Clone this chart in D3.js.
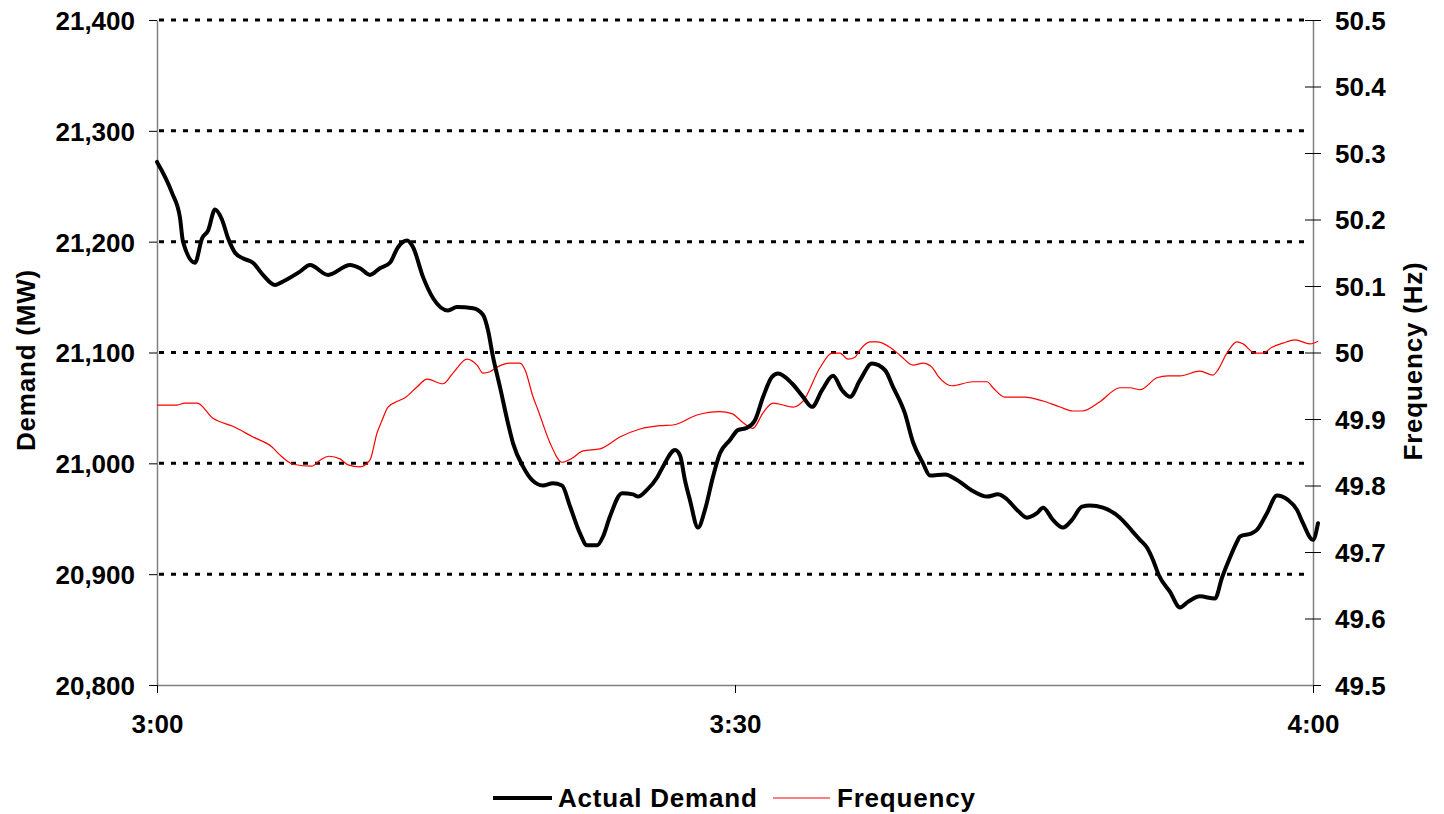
<!DOCTYPE html>
<html>
<head>
<meta charset="utf-8">
<script src="https://cdn.jsdelivr.net/npm/d3@7"></script>
<style>
  body { margin: 0; background: #fff; }
  text { font-family: "Liberation Sans", Arial, sans-serif; font-weight: bold; fill: #000; }
</style>
</head>
<body>
<svg id="chart" width="1444" height="814"></svg>
<script>
// Time axis: minutes after 3:00
const timeTicks = [0, 30, 60];
const timeTickLabels = ["3:00", "3:30", "4:00"];
const demandTicks = [20800, 20900, 21000, 21100, 21200, 21300, 21400];
const freqTicks = [49.5, 49.6, 49.7, 49.8, 49.9, 50.0, 50.1, 50.2, 50.3, 50.4, 50.5];

// Actual demand (MW)
const demandMinutes = [0, 0.78, 1.19, 1.35, 1.97, 2.34, 2.65, 3.01, 3.37, 3.69, 4.05, 4.46, 4.98, 5.5, 6.12, 6.64, 7.42, 7.94, 8.88, 10.02,
  10.54, 11.05, 11.57, 12.09, 12.51, 12.98, 13.29, 13.81, 14.33, 15.1, 15.57, 16.4, 16.92, 17.18, 17.44, 17.8, 18.22, 18.48, 19.0, 19.46,
  20.03, 20.55, 21.02, 21.44, 21.95, 22.32, 22.84, 23.15, 23.51, 24.14, 24.71, 24.97, 25.43, 25.95, 26.26, 26.89, 27.15, 27.4, 27.66, 28.08,
  28.44, 28.86, 29.22, 29.74, 30.15, 30.62, 31.04, 31.46, 31.92, 32.23, 32.96, 33.53, 34.0, 34.52, 35.09, 35.56, 35.97, 36.49, 37.11, 37.79,
  38.2, 38.82, 39.24, 39.76, 40.12, 40.9, 41.52, 42.35, 43.08, 43.65, 44.01, 44.64, 45.15, 45.67, 45.99, 46.5, 47.02, 47.49, 48.01, 48.42,
  49.1, 49.98, 50.66, 51.02, 51.38, 51.69, 52.0, 52.58, 53.1, 53.51, 54.13, 54.91, 55.28, 55.69, 56.05, 56.21, 56.83, 57.09, 57.61, 58.13,
  58.7, 59.17, 59.48, 60.0, 60.26];
const demandMW = [21272, 21244, 21222, 21200, 21181, 21203, 21210, 21229, 21220, 21203, 21190, 21185, 21181, 21170, 21161, 21165, 21173, 21179, 21170, 21179,
  21176, 21170, 21176, 21181, 21195, 21201, 21195, 21168, 21149, 21138, 21141, 21140, 21134, 21120, 21096, 21069, 21036, 21018, 20997, 20985,
  20980, 20982, 20980, 20961, 20937, 20926, 20926, 20934, 20952, 20973, 20972, 20970, 20976, 20987, 20997, 21012, 21007, 20985, 20967, 20942,
  20958, 20988, 21009, 21021, 21030, 21032, 21039, 21060, 21078, 21081, 21072, 21060, 21051, 21066, 21079, 21066, 21060, 21075, 21090, 21084,
  21069, 21045, 21019, 21000, 20989, 20990, 20985, 20975, 20970, 20972, 20969, 20958, 20951, 20955, 20960, 20949, 20942, 20949, 20961, 20962,
  20960, 20951, 20938, 20931, 20924, 20913, 20899, 20884, 20870, 20875, 20880, 20878, 20897, 20915, 20929, 20934, 20937, 20940, 20955, 20971,
  20967, 20958, 20946, 20931, 20946];

// System frequency (Hz)
const freqMinutes = [0, 1.04, 1.45, 2.08, 2.91, 3.94, 4.98, 5.97, 6.38, 7.06, 8.04, 8.46, 8.93, 9.5, 9.91, 10.54, 11.05, 11.42, 11.68, 11.99,
  12.51, 12.87, 13.49, 14.01, 14.84, 15.36, 16.09, 16.61, 16.92, 17.28, 17.65, 18.32, 18.84, 19.1, 19.52, 19.77, 20.4, 21.02, 21.54, 22.11,
  22.99, 24.03, 25.07, 26.11, 26.78, 28.03, 29.22, 29.84, 30.36, 30.93, 31.45, 31.97, 33.01, 33.53, 34.41, 35.03, 35.45, 35.86, 36.23, 36.49,
  37.01, 37.37, 38.04, 38.56, 39.24, 39.76, 40.22, 40.53, 41.26, 42.35, 43.08, 43.39, 44.01, 45.05, 45.99, 46.87, 47.54, 48.01, 48.94, 49.98,
  50.5, 51.02, 51.9, 52.47, 53.1, 54.13, 54.81, 55.07, 55.53, 56.05, 56.37, 56.99, 57.4, 57.87, 58.44, 59.07, 59.84, 60.26];
const freqHz = [49.921, 49.921, 49.924, 49.924, 49.901, 49.889, 49.873, 49.858, 49.846, 49.832, 49.829, 49.838, 49.844, 49.840, 49.831, 49.828, 49.838, 49.879, 49.898, 49.918,
  49.927, 49.932, 49.948, 49.960, 49.953, 49.969, 49.990, 49.981, 49.969, 49.971, 49.978, 49.984, 49.984, 49.974, 49.933, 49.914, 49.864, 49.835, 49.841, 49.852,
  49.855, 49.873, 49.885, 49.890, 49.891, 49.906, 49.911, 49.908, 49.896, 49.886, 49.909, 49.924, 49.918, 49.927, 49.977, 49.999, 49.999, 49.990, 49.993, 50.004,
  50.016, 50.016, 50.008, 49.996, 49.981, 49.984, 49.978, 49.965, 49.950, 49.956, 49.956, 49.947, 49.933, 49.933, 49.927, 49.918, 49.912, 49.912, 49.926, 49.947,
  49.947, 49.944, 49.962, 49.965, 49.965, 49.972, 49.966, 49.974, 49.999, 50.016, 50.013, 49.999, 49.999, 50.008, 50.014, 50.019, 50.013, 50.017];

const svg = d3.select("#chart");
const plot = { left: 157, right: 1313, top: 20, bottom: 685 };

const x = d3.scaleLinear().domain([0, 60]).range([plot.left, plot.right]);
const yDemand = d3.scaleLinear().domain([20800, 21400]).range([plot.bottom, plot.top]);
const yFreq = d3.scaleLinear().domain([49.5, 50.5]).range([plot.bottom, plot.top]);

// Dotted horizontal gridlines
svg.append("g")
  .selectAll("line")
  .data(demandTicks.filter(d => d > 20800))
  .join("line")
  .attr("x1", plot.left + 2)
  .attr("x2", plot.right - 3)
  .attr("y1", d => yDemand(d))
  .attr("y2", d => yDemand(d))
  .attr("stroke", "#000")
  .attr("stroke-width", 3)
  .attr("stroke-dasharray", "5,7");

function styleAxis(g) {
  g.select(".domain").attr("stroke", "#808080").attr("stroke-width", 1.5);
  g.selectAll(".tick line").attr("stroke", "#000");
  g.selectAll(".tick text").attr("font-size", 26).attr("fill", "#000")
    .attr("font-family", "'Liberation Sans', Arial, sans-serif").attr("font-weight", "bold");
}

// Left axis (demand)
svg.append("g")
  .attr("transform", `translate(${plot.left},0)`)
  .call(d3.axisLeft(yDemand).tickValues(demandTicks).tickFormat(d3.format(","))
    .tickSize(8).tickSizeOuter(0).tickPadding(14))
  .call(styleAxis)
  .call(g => g.selectAll(".tick text").attr("dy", "0.36em"));

// Right axis (frequency) with crossing tick marks
svg.append("g")
  .attr("transform", `translate(${plot.right},0)`)
  .call(d3.axisRight(yFreq).tickValues(freqTicks).tickFormat(d => String(+d.toFixed(1)))
    .tickSize(8).tickSizeOuter(0).tickPadding(14))
  .call(styleAxis)
  .call(g => g.selectAll(".tick line").attr("x1", -8))
  .call(g => g.selectAll(".tick text").attr("dy", "0.36em"));

// Bottom time axis
svg.append("g")
  .attr("transform", `translate(0,${plot.bottom})`)
  .call(d3.axisBottom(x).tickValues(timeTicks).tickFormat((d, i) => timeTickLabels[i])
    .tickSize(8).tickSizeOuter(0).tickPadding(22))
  .call(styleAxis);

// Axis titles
svg.append("text")
  .attr("transform", `translate(35,360) rotate(-90)`)
  .attr("text-anchor", "middle")
  .attr("font-size", 26)
  .attr("letter-spacing", 0.8)
  .text("Demand (MW)");

svg.append("text")
  .attr("transform", `translate(1422,361) rotate(-90)`)
  .attr("text-anchor", "middle")
  .attr("font-size", 26)
  .attr("letter-spacing", 0.8)
  .text("Frequency (Hz)");

// Series lines
const demandLine = d3.line()
  .x((d, i) => x(demandMinutes[i]))
  .y(d => yDemand(d))
  .curve(d3.curveMonotoneX);

const freqLine = d3.line()
  .x((d, i) => x(freqMinutes[i]))
  .y(d => yFreq(d))
  .curve(d3.curveMonotoneX);

svg.append("path")
  .attr("d", freqLine(freqHz))
  .attr("fill", "none")
  .attr("stroke", "#ff0000")
  .attr("stroke-width", 1.2);

svg.append("path")
  .attr("d", demandLine(demandMW))
  .attr("fill", "none")
  .attr("stroke", "#000")
  .attr("stroke-width", 4)
  .attr("stroke-linejoin", "round")
  .attr("stroke-linecap", "round");

// Legend
const legend = svg.append("g");
legend.append("line").attr("x1", 493).attr("x2", 552).attr("y1", 798).attr("y2", 798)
  .attr("stroke", "#000").attr("stroke-width", 4);
legend.append("text").attr("x", 558).attr("y", 807).attr("font-size", 26).attr("letter-spacing", 0.8)
  .text("Actual Demand");
legend.append("line").attr("x1", 773).attr("x2", 830).attr("y1", 798).attr("y2", 798)
  .attr("stroke", "#ff0000").attr("stroke-width", 1.2);
legend.append("text").attr("x", 837).attr("y", 807).attr("font-size", 26).attr("letter-spacing", 0.8)
  .text("Frequency");
</script>
</body>
</html>
